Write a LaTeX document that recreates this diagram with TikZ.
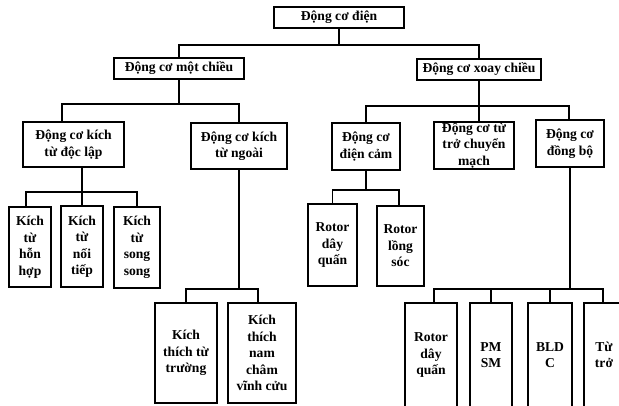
\documentclass[tikz,border=0pt]{standalone}
\usepackage{fontspec}
\setmainfont{Liberation Serif}
\usetikzlibrary{positioning}

\begin{document}
\begin{tikzpicture}[x=1pt,y=-1pt,line width=1.2pt,
    box/.style={draw, align=center, inner sep=0pt,
      font=\fontsize{13.6}{16.5}\selectfont\bfseries}]
    \useasboundingbox (0,0) rectangle (619,405);
    \clip (0,0) rectangle (619,405);

    \node[box, minimum width=130pt, minimum height=21pt] (dien) at (339,17.5) {Động cơ điện};

    \node[box, minimum width=130pt, minimum height=21pt] (motchieu) at (179,68.5) {Động cơ một chiều};
    \node[box, minimum width=124pt, minimum height=21pt] (xoaychieu) at (479,69.5) {Động cơ xoay chiều};

    \node[box, minimum width=101pt, minimum height=45pt] (doclap) at (73.5,144.5) {Động cơ kích\\từ độc lập};
    \node[box, minimum width=96pt, minimum height=46pt] (ngoai) at (239,146) {Động cơ kích\\từ ngoài};
    \node[box, minimum width=68pt, minimum height=47pt] (camung) at (366,146.5) {Động cơ\\điện cảm};
    \node[box, minimum width=80pt, minimum height=47pt] (tutro) at (474,145.5) {Động cơ từ\\trở chuyển\\mạch};
    \node[box, minimum width=68pt, minimum height=47pt] (dongbo) at (570,143.5) {Động cơ\\đồng bộ};

    \node[box, minimum width=42pt, minimum height=80pt] (honhop) at (30,247) {Kích\\từ\\hỗn\\hợp};
    \node[box, minimum width=42pt, minimum height=81pt] (noitiep) at (82,246.5) {Kích\\từ\\nối\\tiếp};
    \node[box, minimum width=46pt, minimum height=81pt] (songsong) at (137,247.5) {Kích\\từ\\song\\song};

    \node[box, minimum width=62pt, minimum height=100pt] (tutruong) at (186,353) {Kích\\thích từ\\trường};
    \node[box, minimum width=68pt, minimum height=100pt] (namcham) at (262,353) {Kích\\thích\\nam\\châm\\vĩnh cửu};

    \node[box, minimum width=49pt, minimum height=82pt] (rdayquan) at (332.5,245) {Rotor\\dây\\quấn};
    \node[box, minimum width=47pt, minimum height=80pt] (rlongsoc) at (400.5,246) {Rotor\\lồng\\sóc};

    \node[box, minimum width=52pt, minimum height=104pt] (sdayquan) at (431,355) {Rotor\\dây\\quấn};
    \node[box, minimum width=42pt, minimum height=104pt] (pmsm) at (491,355) {PM\\SM};
    \node[box, minimum width=44pt, minimum height=104pt] (bldc) at (550,355) {BLD\\C};
    \node[box, minimum width=40pt, minimum height=104pt] (trokhang) at (604,355) {Từ\\trở};

    \coordinate (bus0) at (339,45);
    \coordinate (bus1) at (179,104);
    \coordinate (bus2) at (479,106);
    \coordinate (bus3) at (82,192);
    \coordinate (bus4) at (239,289);
    \coordinate (bus5) at (366,190);
    \coordinate (bus6) at (570,289);

    \draw (dien) -- (bus0);
    \draw (motchieu.north) |- (bus0) -| (xoaychieu.north);

    \draw (motchieu) -- (bus1);
    \draw ([xshift=-11.5pt]doclap.north) |- (bus1) -| (ngoai.north);

    \draw (xoaychieu.south) -- ([xshift=5pt]tutro.north);
    \draw (camung.north) |- (bus2) -| ([xshift=-1pt]dongbo.north);

    \draw ([xshift=8.5pt]doclap.south) -- (bus3);
    \draw ([xshift=-4pt]honhop.north) |- (bus3) -| (songsong.north);
    \draw (noitiep) -- (bus3);

    \draw (ngoai) -- (bus4);
    \draw (tutruong.north) |- (bus4) -| ([xshift=-4pt]namcham.north);

    \draw (camung) -- (bus5);
    \draw (rdayquan.north) |- (bus5) -| ([xshift=-1.5pt]rlongsoc.north);

    \draw (dongbo) -- (bus6);
    \draw ([xshift=3pt]sdayquan.north) |- (bus6) -| ([xshift=-1pt]trokhang.north);
    \draw (pmsm.north) -- (pmsm.north |- bus6);
    \draw (bldc.north) -- (bldc.north |- bus6);
  \end{tikzpicture}
\end{document}
